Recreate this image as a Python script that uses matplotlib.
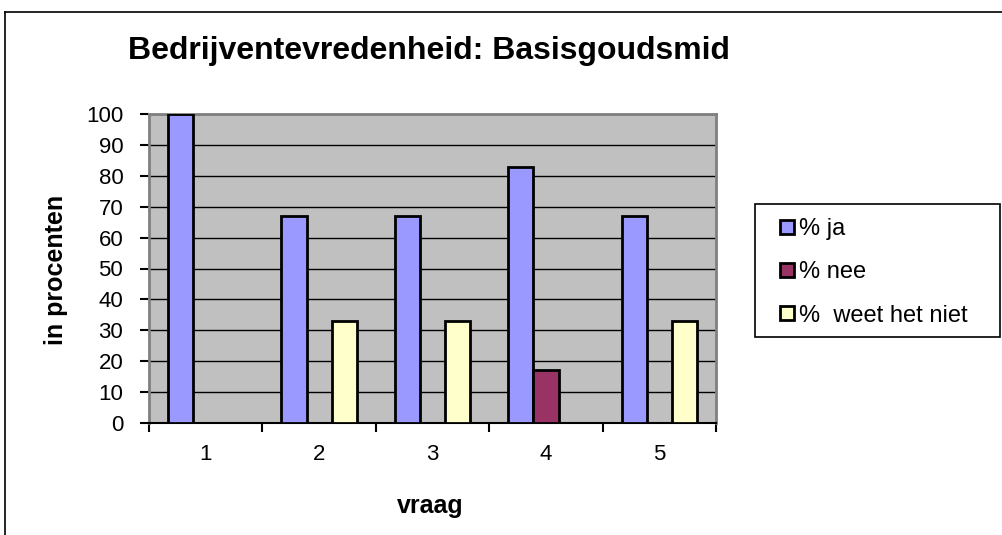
import matplotlib.pyplot as plt
import numpy as np
from matplotlib.lines import Line2D
from matplotlib.patches import Rectangle

plt.rcParams['font.family'] = ['Liberation Sans', 'DejaVu Sans']

vragen = ["1", "2", "3", "4", "5"]
ja = [100, 67, 67, 83, 67]
nee = [0, 0, 0, 17, 0]
weet_niet = [0, 33, 33, 0, 33]
series_names = ["% ja", "% nee", "%  weet het niet"]
colors = ["#9999FF", "#993366", "#FFFFCC"]

W, H = 1002, 535
fig = plt.figure(figsize=(W / 100, H / 100), dpi=100)
ax = fig.add_axes([149/W, 112/H, 567/W, 309/H])
ax.set_facecolor("#C0C0C0")

x = np.arange(len(vragen))
w = 1 / 4.5
for i, (vals, name, col) in enumerate(zip([ja, nee, weet_niet], series_names, colors)):
    ax.bar(x + (i - 1) * w, vals, width=w, color=col, edgecolor="black",
           linewidth=2, label=name, zorder=3)

ax.set_xlim(-0.5, len(vragen) - 0.5)
ax.set_ylim(0, 100)
ax.set_yticks(range(0, 101, 10))
ax.yaxis.grid(True, color="black", linewidth=1.0, zorder=1)
ax.set_axisbelow(True)

# x ticks between categories, labels centred
ax.set_xticks(np.arange(-0.5, len(vragen)))
ax.set_xticklabels([])
ax.set_xticks(x, minor=True)
ax.set_xticklabels(vragen, minor=True)
ax.tick_params(axis="x", which="major", length=6.5, width=1.5, direction="out")
ax.tick_params(axis="x", which="minor", length=0, labelsize=16, pad=15)
ax.tick_params(axis="y", length=6.5, width=1.5, labelsize=16, pad=12)

for s in ["top", "right", "left"]:
    ax.spines[s].set_color("#808080")
    ax.spines[s].set_linewidth(2)
ax.spines["bottom"].set_color("black")
ax.spines["bottom"].set_linewidth(1.5)

fig.text(429/W, 1 - 59/H, "Bedrijventevredenheid: Basisgoudsmid",
         fontsize=23, fontweight="bold", ha="center", va="baseline")
fig.text(56/W, 1 - 270/H, "in procenten", fontsize=18, fontweight="bold",
         rotation=90, ha="center", va="center")
fig.text(430/W, 1 - 513/H, "vraag", fontsize=18, fontweight="bold",
         ha="center", va="baseline")

handles = [Line2D([], [], marker="s", linestyle="none", markersize=9.4,
                  markerfacecolor=c, markeredgecolor="black", markeredgewidth=2)
           for c in colors]
leg = fig.legend(handles, series_names, loc="upper left",
                 bbox_to_anchor=(755/W, 1 - 204/H), fontsize=17,
                 frameon=False, handletextpad=-0.25, labelspacing=0.9,
                 borderpad=0.6, handlelength=1.5, borderaxespad=0)
fig.add_artist(Rectangle((755/W, 1 - 337/H), 245/W, 133/H, fill=False,
                         edgecolor="black", linewidth=1.2,
                         transform=fig.transFigure))

# outer chart border
fig.add_artist(Line2D([5/W, 5/W], [0, 1 - 12/H], color="black",
                      linewidth=1.2, transform=fig.transFigure))
fig.add_artist(Line2D([5/W, 1], [1 - 12/H, 1 - 12/H], color="black",
                      linewidth=1.2, transform=fig.transFigure))

fig.savefig("out.png", dpi=100)
